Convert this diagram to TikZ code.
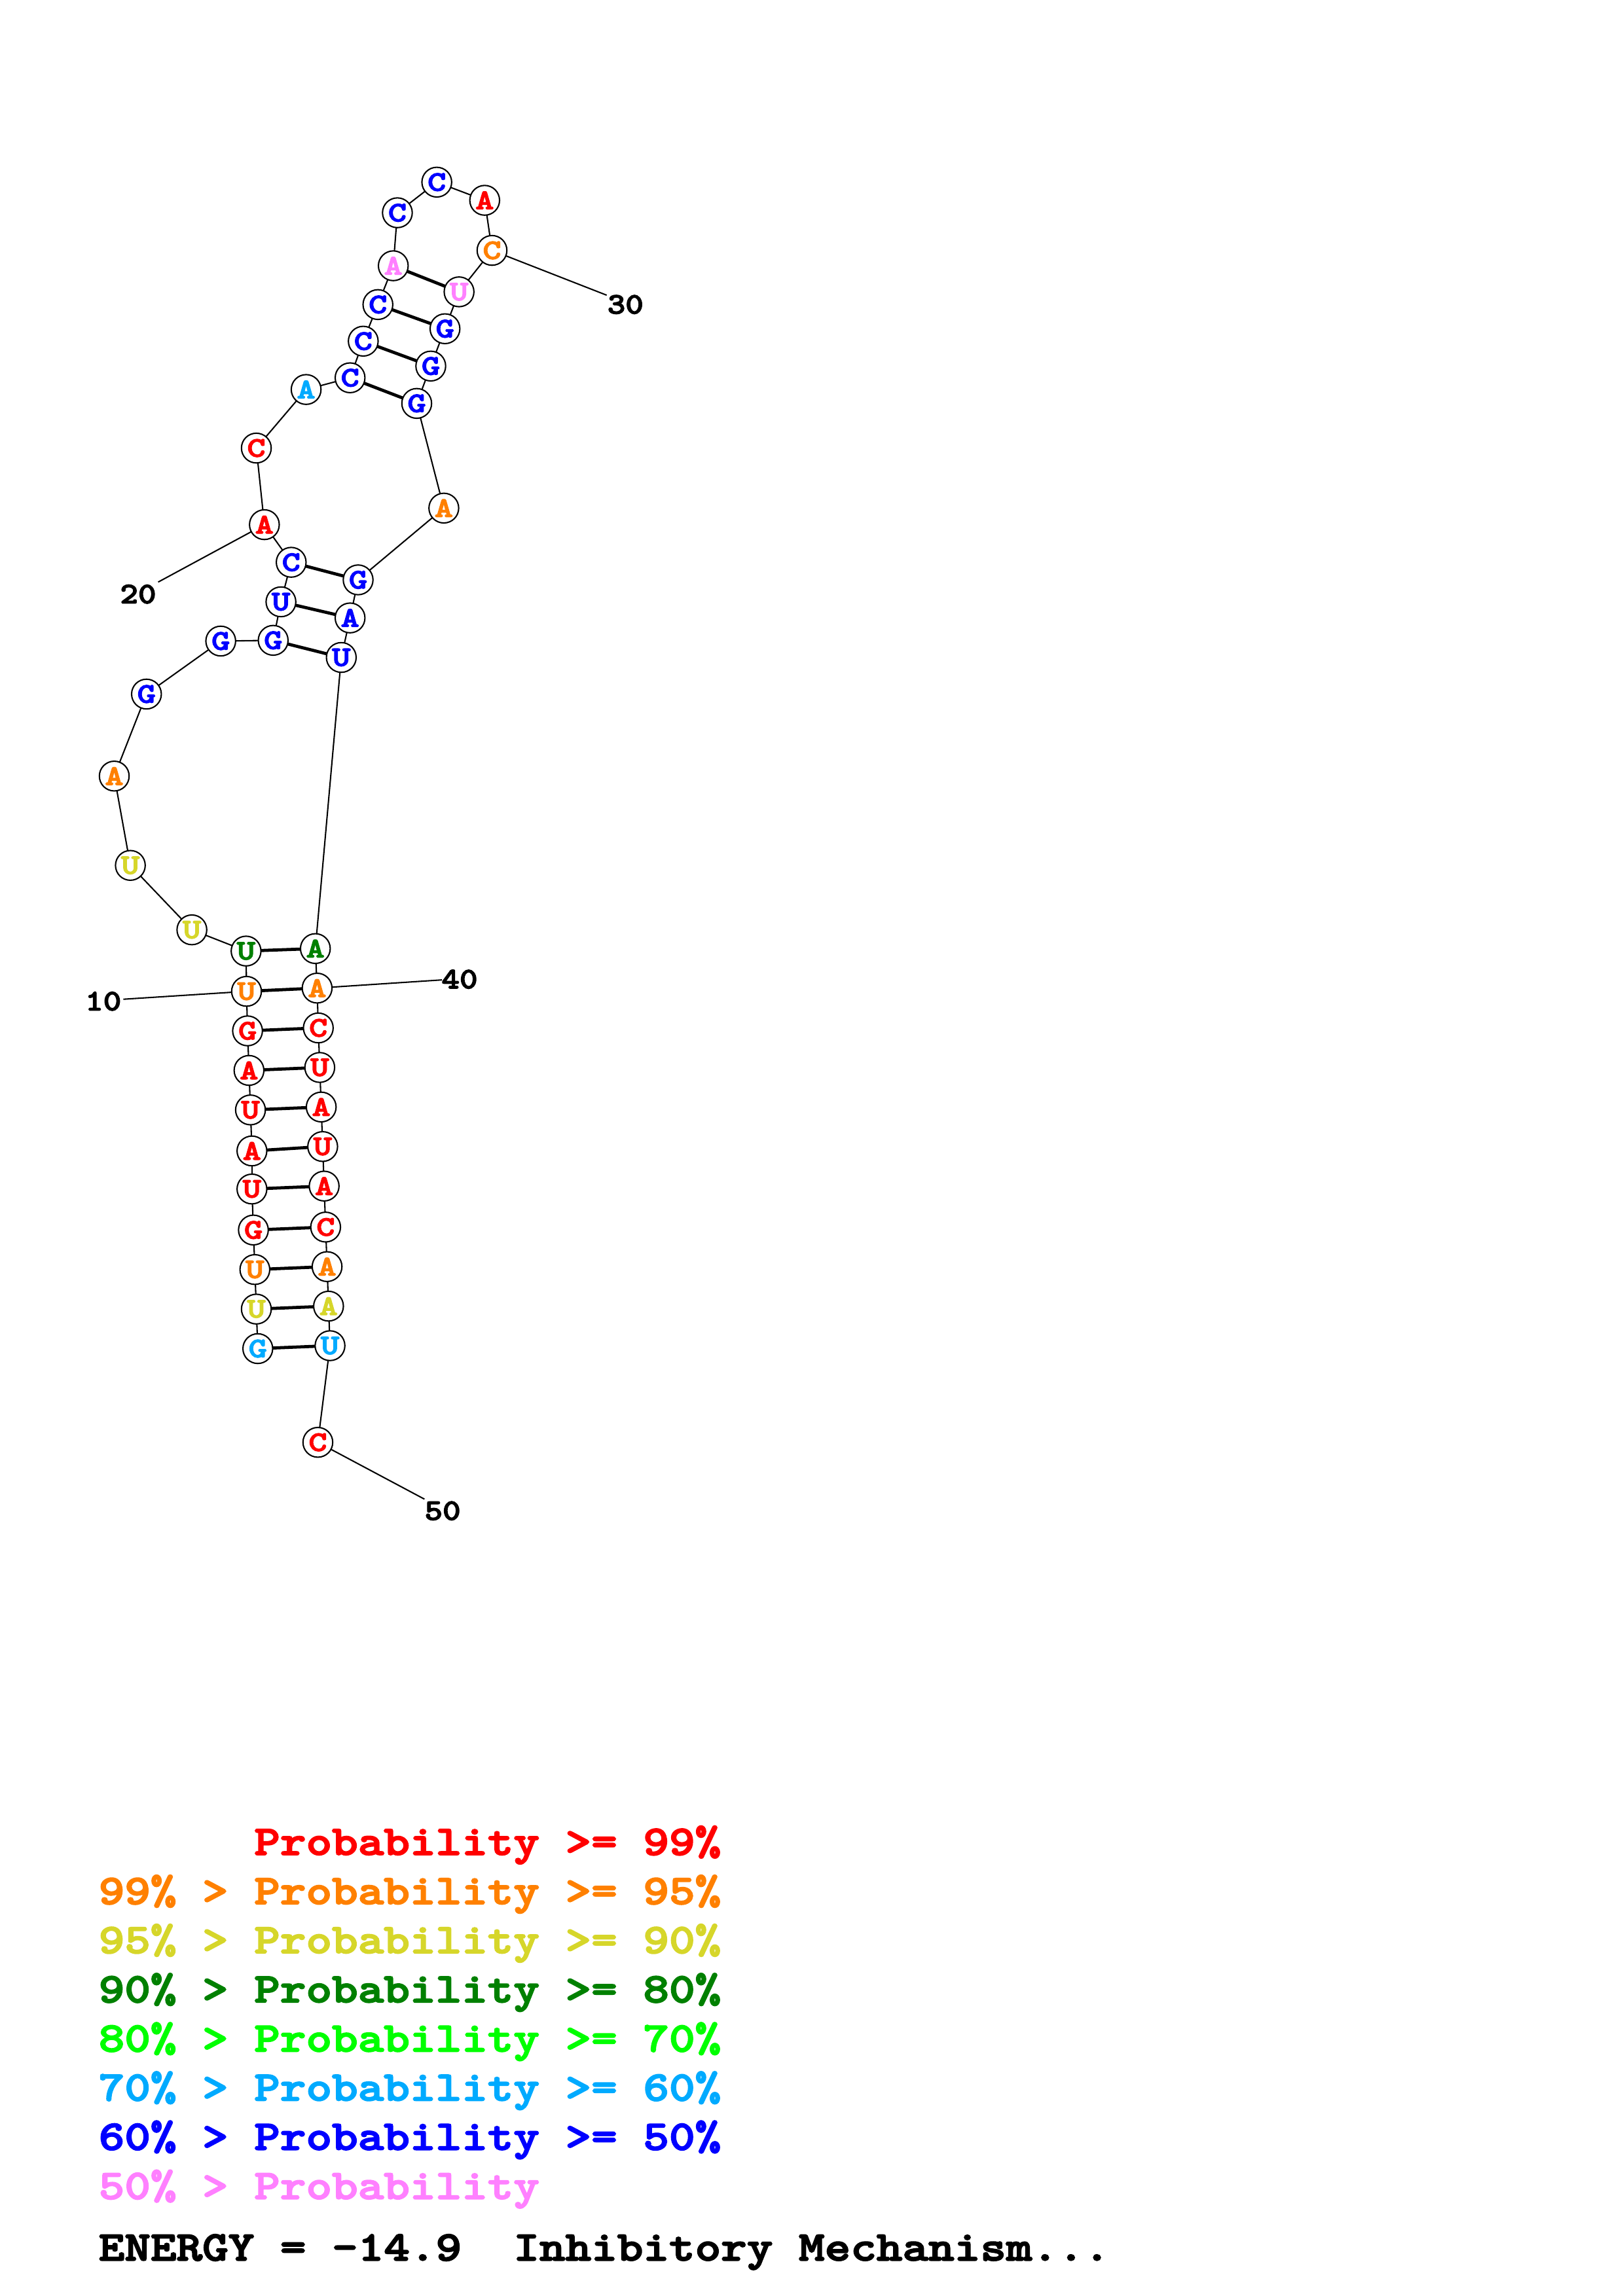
\documentclass[tikz,border=0pt]{standalone}
\usetikzlibrary{backgrounds}
\definecolor{pRed}{RGB}{255,0,0}
\definecolor{pOrange}{RGB}{255,128,0}
\definecolor{pYellow}{RGB}{214,214,42}
\definecolor{pDGreen}{RGB}{0,128,0}
\definecolor{pGreen}{RGB}{0,255,0}
\definecolor{pCyan}{RGB}{0,170,255}
\definecolor{pBlue}{RGB}{0,0,255}
\definecolor{pPink}{RGB}{255,128,255}
\font\ntF="[lmmonolt10-bold]:embolden=3;extend=1.25" at 10.4pt
\font\lblF="[lmmonolt10-bold]:embolden=3;extend=1.15" at 11pt
\font\legF="[lmmonolt10-bold]:embolden=3;extend=1.177" at 15.45pt
\tikzset{
  nt/.style={circle, draw=black, fill=white, line width=0.5pt, minimum size=3.85mm, inner sep=0pt, font=\ntF},
  bb/.style={line width=0.5pt, black},
  bp/.style={line width=1.15pt, black},
  lbl/.style={anchor=base, inner sep=0pt, font=\lblF},
  leg/.style={anchor=base west, inner sep=0pt, font=\legF}
}
\begin{document}
\begin{tikzpicture}[x=0.18953mm, y=-0.18953mm]
\useasboundingbox (0,0) rectangle (1108,1568);
% nucleotides
\foreach \i/\x/\y/\b/\c in {
 1/176/921/G/pCyan, 2/175/894/U/pYellow, 3/174/867/U/pOrange, 4/173/840/G/pRed,
 5/172/812/U/pRed, 6/172/786/A/pRed, 7/171/758/U/pRed, 8/170/731/A/pRed,
 9/169/704/G/pRed, 10/168.3/677/U/pOrange, 11/168/649.5/U/pDGreen, 12/131/635/U/pYellow,
 13/89/591/U/pYellow, 14/78/530/A/pOrange, 15/100/474/G/pBlue, 16/150.7/437.8/G/pBlue,
 17/186.5/437.3/G/pBlue, 18/191.8/411/U/pBlue, 19/198.8/384/C/pBlue, 20/180.5/358.3/A/pRed,
 21/175/306/C/pRed, 22/209/266/A/pCyan, 23/239/258/C/pBlue, 24/248/233/C/pBlue,
 25/258/208/C/pBlue, 26/268.5/181.5/A/pPink, 27/271.3/145.3/C/pBlue, 28/298.2/124.4/C/pBlue,
 29/330.9/136.8/A/pRed, 30/335.9/171/C/pOrange, 31/313.4/199.3/U/pPink, 32/303.8/224.5/G/pBlue,
 33/294.1/250/G/pBlue, 34/284.5/275.5/G/pBlue, 35/303/347/A/pOrange, 36/244.5/396/G/pBlue,
 37/239/422/A/pBlue, 38/233/449/U/pBlue, 39/215.3/647.8/A/pDGreen, 40/216.5/674.8/A/pOrange,
 41/217.3/702/C/pRed, 42/218.3/729/U/pRed, 43/219.3/756/A/pRed, 44/220.3/783/U/pRed,
 45/221.3/810/A/pRed, 46/222.3/838/C/pRed, 47/223.3/865/A/pOrange, 48/224.3/892/A/pYellow,
 49/225.3/919/U/pCyan, 50/217/985/C/pRed}
{
  \node[nt, text=\c] (n\i) at (\x,\y) {\b};
}
% label line ends
\coordinate (e10) at (84.2,682.4);
\coordinate (e20) at (108,397.5);
\coordinate (e30) at (414.2,201.6);
\coordinate (e40) at (301.7,669.2);
\coordinate (e50) at (289.8,1023.8);
% labels
\node[lbl] (t10) at (70.5,690) {10};
\node[lbl] (t20) at (94.3,412) {20};
\node[lbl] (t30) at (427,214.2) {30};
\node[lbl] (t40) at (313.8,675) {40};
\node[lbl] (t50) at (302.2,1038) {50};
\begin{scope}[on background layer]
  \foreach \i in {1,...,49} {
    \pgfmathtruncatemacro{\j}{\i+1}
    \draw[bb] (n\i.center) -- (n\j.center);
  }
  \foreach \a/\b in {1/49,2/48,3/47,4/46,5/45,6/44,7/43,8/42,9/41,10/40,11/39,17/38,18/37,19/36,23/34,24/33,25/32,26/31}
  {
    \draw[bp] (n\a.center) -- (n\b.center);
  }
  \foreach \k in {10,20,30,40,50} {
    \draw[bb] (n\k.center) -- (e\k);
  }
\end{scope}
% legend
\node[leg, text=pRed] (l1) at (67,1266.7) {\phantom{99\% > }Probability >= 99\%};
\node[leg, text=pOrange] (l2) at (67,1300.3) {99\% > Probability >= 95\%};
\node[leg, text=pYellow] (l3) at (67,1333.8) {95\% > Probability >= 90\%};
\node[leg, text=pDGreen] (l4) at (67,1367.4) {90\% > Probability >= 80\%};
\node[leg, text=pGreen] (l5) at (67,1401.0) {80\% > Probability >= 70\%};
\node[leg, text=pCyan] (l6) at (67,1434.5) {70\% > Probability >= 60\%};
\node[leg, text=pBlue] (l7) at (67,1468.1) {60\% > Probability >= 50\%};
\node[leg, text=pPink] (l8) at (67,1501.7) {50\% > Probability};
\node[leg, text=black] (en) at (67,1543.7) {ENERGY = -14.9\ \ Inhibitory Mechanism...};
\end{tikzpicture}
\end{document}
